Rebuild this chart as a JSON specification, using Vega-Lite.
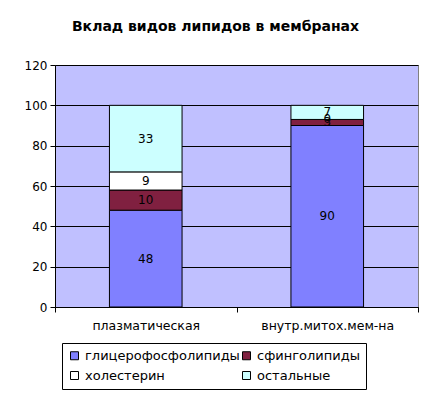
{
  "$schema": "https://vega.github.io/schema/vega-lite/v6.json",
  "width": 363,
  "height": 242,
  "autosize": {"type": "none"},
  "padding": {"left": 55, "top": 65, "right": 18, "bottom": 87},
  "background": "white",
  "title": {
    "text": "Вклад видов липидов в мембранах",
    "font": "DejaVu Sans",
    "fontSize": 14,
    "fontWeight": "bold",
    "color": "black",
    "anchor": "middle",
    "offset": 25,
    "dx": -21
  },
  "data": {
    "values": [
      {"membrane": "плазматическая", "lipid": "глицерофосфолипиды", "order": 1, "value": 48},
      {"membrane": "плазматическая", "lipid": "сфинголипиды", "order": 2, "value": 10},
      {"membrane": "плазматическая", "lipid": "холестерин", "order": 3, "value": 9},
      {"membrane": "плазматическая", "lipid": "остальные", "order": 4, "value": 33},
      {"membrane": "внутр.митох.мем-на", "lipid": "глицерофосфолипиды", "order": 1, "value": 90},
      {"membrane": "внутр.митох.мем-на", "lipid": "сфинголипиды", "order": 2, "value": 3},
      {"membrane": "внутр.митох.мем-на", "lipid": "холестерин", "order": 3, "value": 0},
      {"membrane": "внутр.митох.мем-на", "lipid": "остальные", "order": 4, "value": 7}
    ]
  },
  "transform": [
    {"stack": "value", "groupby": ["membrane"], "sort": [{"field": "order"}], "as": ["y0", "y1"]},
    {"calculate": "(datum.y0 + datum.y1) / 2", "as": "ymid"}
  ],
  "encoding": {
    "x": {
      "field": "membrane",
      "type": "nominal",
      "sort": ["плазматическая", "внутр.митох.мем-на"],
      "scale": {"paddingInner": 0, "paddingOuter": 0},
      "axis": {
        "title": null,
        "labelAngle": 0,
        "labelFont": "DejaVu Sans",
        "labelFontSize": 12.5,
        "labelColor": "black",
        "labelPadding": 7,
        "domainColor": "black",
        "tickColor": "black",
        "tickSize": 5,
        "tickBand": "extent",
        "grid": false
      }
    }
  },
  "layer": [
    {
      "mark": {"type": "bar", "width": {"band": 0.4}, "stroke": "black", "strokeWidth": 1},
      "encoding": {
        "y": {
          "field": "y0",
          "type": "quantitative",
          "scale": {"domain": [0, 120]},
          "axis": {
            "title": null,
            "values": [0, 20, 40, 60, 80, 100, 120],
            "labelFont": "DejaVu Sans",
            "labelFontSize": 12,
            "labelColor": "black",
            "labelPadding": 3,
            "domainColor": "black",
            "tickColor": "black",
            "tickSize": 5,
            "grid": true,
            "gridColor": "black",
            "gridOpacity": 1
          }
        },
        "y2": {"field": "y1"},
        "color": {
          "field": "lipid",
          "type": "nominal",
          "scale": {
            "domain": ["глицерофосфолипиды", "сфинголипиды", "холестерин", "остальные"],
            "range": ["#8080ff", "#802040", "#ffffff", "#ccffff"]
          },
          "legend": {
            "title": null,
            "orient": "none",
            "legendX": 7,
            "legendY": 278,
            "columns": 2,
            "direction": "horizontal",
            "gridAlign": "all",
            "symbolType": "square",
            "symbolSize": 64,
            "symbolStrokeColor": "black",
            "symbolStrokeWidth": 1,
            "symbolOpacity": 1,
            "labelFont": "DejaVu Sans",
            "labelFontSize": 13,
            "labelColor": "black",
            "labelOffset": 4,
            "strokeColor": "black",
            "fillColor": "white",
            "padding": 6,
            "rowPadding": 6,
            "columnPadding": 0
          }
        }
      }
    },
    {
      "mark": {"type": "text", "font": "DejaVu Sans", "fontSize": 12, "color": "black"},
      "encoding": {
        "y": {"field": "ymid", "type": "quantitative"},
        "text": {"field": "value", "type": "quantitative"}
      }
    }
  ],
  "config": {
    "view": {"fill": "#c0c0ff", "stroke": "#808080"}
  }
}
